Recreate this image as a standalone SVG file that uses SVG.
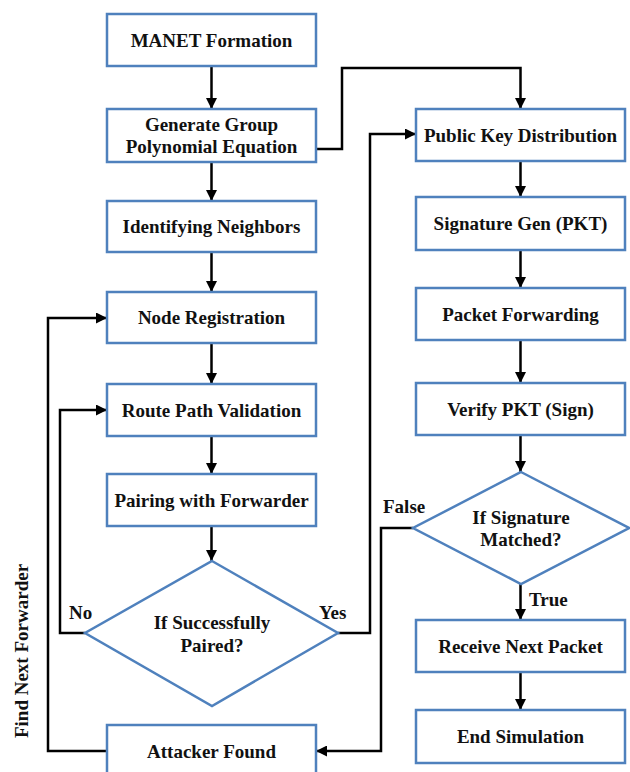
<svg xmlns="http://www.w3.org/2000/svg" width="630" height="772" viewBox="0 0 630 772">
<style>
.box{fill:#fff;stroke:#4F81BD;stroke-width:2.5}
text{font-family:'Liberation Serif',serif;font-weight:bold;font-size:19px;fill:#111}
.t{text-anchor:middle}
.c{fill:none;stroke:#000;stroke-width:2.5}
</style>
<defs>
<marker id="ah" viewBox="0 0 10 10" refX="10" refY="5" markerWidth="4.4" markerHeight="4.4" markerUnits="strokeWidth" orient="auto">
<path d="M0,0 L10,5 L0,10 z" fill="#000"/>
</marker>
</defs>
<rect width="630" height="772" fill="#fff"/>
<g id="connectors">
<path class="c" d="M211.5,66 V109" marker-end="url(#ah)"/>
<path class="c" d="M211.5,162 V201" marker-end="url(#ah)"/>
<path class="c" d="M211.5,252 V292" marker-end="url(#ah)"/>
<path class="c" d="M211.5,343 V384" marker-end="url(#ah)"/>
<path class="c" d="M211.5,436 V474" marker-end="url(#ah)"/>
<path class="c" d="M211.5,526 V561" marker-end="url(#ah)"/>
<path class="c" d="M316,149 H342 V68 H520.5 V109" marker-end="url(#ah)"/>
<path class="c" d="M338,633 H370 V134 H416" marker-end="url(#ah)"/>
<path class="c" d="M85,633 H60 V410 H107" marker-end="url(#ah)"/>
<path class="c" d="M107,751 H48 V318 H107" marker-end="url(#ah)"/>
<path class="c" d="M413,528 H381 V751 H316" marker-end="url(#ah)"/>
<path class="c" d="M520.5,161 V197" marker-end="url(#ah)"/>
<path class="c" d="M520.5,250 V288" marker-end="url(#ah)"/>
<path class="c" d="M520.5,340 V383" marker-end="url(#ah)"/>
<path class="c" d="M520.5,435 V472" marker-end="url(#ah)"/>
<path class="c" d="M520.5,584 V620" marker-end="url(#ah)"/>
<path class="c" d="M520.5,672 V710" marker-end="url(#ah)"/>
<text x="69" y="619">No</text>
<text x="319" y="619">Yes</text>
<text x="383" y="513">False</text>
<text x="529" y="606">True</text>
<text transform="translate(28,651) rotate(-90)" text-anchor="middle">Find Next Forwarder</text>
</g>
<g id="manet"><rect class="box" x="107" y="14" width="209" height="52"/><text class="t" x="211.5" y="46.5">MANET Formation</text></g>
<g id="generate"><rect class="box" x="107" y="109" width="209" height="53"/><text class="t" x="211.5" y="130.5">Generate Group</text><text class="t" x="211.5" y="153">Polynomial Equation</text></g>
<g id="identifying"><rect class="box" x="107" y="201" width="209" height="51"/><text class="t" x="211.5" y="233">Identifying Neighbors</text></g>
<g id="nodereg"><rect class="box" x="107" y="292" width="209" height="51"/><text class="t" x="211.5" y="324">Node Registration</text></g>
<g id="route"><rect class="box" x="107" y="384" width="209" height="52"/><text class="t" x="211.5" y="416.5">Route Path Validation</text></g>
<g id="pairing"><rect class="box" x="107" y="474" width="209" height="52"/><text class="t" x="211.5" y="506.5">Pairing with Forwarder</text></g>
<g id="paired"><polygon class="box" points="212,561 338,633 212,706 85,633"/><text class="t" x="212" y="628.5">If Successfully</text><text class="t" x="212" y="651.5">Paired?</text></g>
<g id="attacker"><rect class="box" x="107" y="725" width="209" height="52"/><text class="t" x="211.5" y="757.5">Attacker Found</text></g>
<g id="pubkey"><rect class="box" x="416" y="109" width="209" height="52"/><text class="t" x="520.5" y="141.5">Public Key Distribution</text></g>
<g id="siggen"><rect class="box" x="416" y="197" width="209" height="53"/><text class="t" x="520.5" y="230">Signature Gen (PKT)</text></g>
<g id="packetfwd"><rect class="box" x="416" y="288" width="209" height="52"/><text class="t" x="520.5" y="320.5">Packet Forwarding</text></g>
<g id="verify"><rect class="box" x="416" y="383" width="209" height="52"/><text class="t" x="520.5" y="415.5">Verify PKT (Sign)</text></g>
<g id="matched"><polygon class="box" points="521,472 629,528 521,584 413,528"/><text class="t" x="521" y="523.5">If Signature</text><text class="t" x="521" y="545.5">Matched?</text></g>
<g id="receive"><rect class="box" x="416" y="620" width="209" height="52"/><text class="t" x="520.5" y="652.5">Receive Next Packet</text></g>
<g id="endsim"><rect class="box" x="416" y="710" width="209" height="53"/><text class="t" x="520.5" y="742.5">End Simulation</text></g>
</svg>
